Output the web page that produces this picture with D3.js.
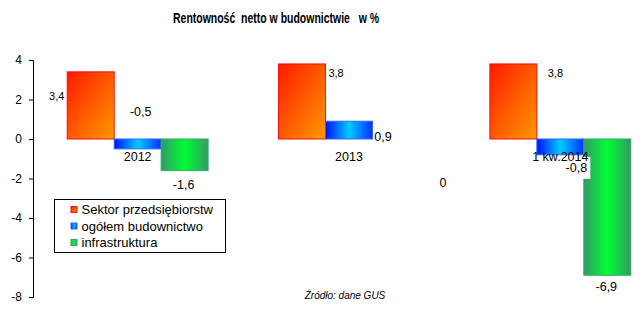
<!DOCTYPE html>
<html>
<head>
<meta charset="utf-8">
<script src="https://cdn.jsdelivr.net/npm/d3@7"></script>
<style>
  body { margin: 0; background: #fff; }
  svg { display: block; font-family: "Liberation Sans", Arial, sans-serif; }
</style>
</head>
<body>
<div id="chart"></div>
<script>
const categories = ["2012", "2013", "1 kw.2014"];
const seriesNames = ["Sektor przedsiębiorstw", "ogółem budownictwo", "infrastruktura"];
const sektor = [3.4, 3.8, 3.8];
const ogolem = [-0.5, 0.9, -0.8];
const infra = [-1.6, 0, -6.9];
const yTicks = [4, 2, 0, -2, -4, -6, -8];

// label nudges (px) from the end of each bar, Excel put them all over the place
const labelNudge = [
  [[-34, 24], [34, 9], [42, 9]],
  [[3, -37], [34, 15], [16, 13]],
  [[-1, 14], [47, 44], [-1, 11]]
];

const width = 642, height = 315;
const svg = d3.select("#chart").append("svg").attr("width", width).attr("height", height);

// ---------- gradients ----------
const defs = svg.append("defs");
const gOrange = defs.append("linearGradient").attr("id", "gOrange")
  .attr("x1", "0%").attr("y1", "0%").attr("x2", "100%").attr("y2", "100%");
gOrange.append("stop").attr("offset", "0%").attr("stop-color", "#ff1a00");
gOrange.append("stop").attr("offset", "100%").attr("stop-color", "#ff9900");

const gBlue = defs.append("linearGradient").attr("id", "gBlue");
gBlue.append("stop").attr("offset", "0%").attr("stop-color", "#0010ff");
gBlue.append("stop").attr("offset", "50%").attr("stop-color", "#00ccff");
gBlue.append("stop").attr("offset", "100%").attr("stop-color", "#0030ff");

const gGreen = defs.append("linearGradient").attr("id", "gGreen");
gGreen.append("stop").attr("offset", "0%").attr("stop-color", "#339966");
gGreen.append("stop").attr("offset", "50%").attr("stop-color", "#00ff33");
gGreen.append("stop").attr("offset", "100%").attr("stop-color", "#339966");

const fills = ["url(#gOrange)", "url(#gBlue)", "url(#gGreen)"];
const strokes = ["#ee1111", "#3366ff", "#33aa66"];

// ---------- scales ----------
const y = d3.scaleLinear().domain([-8, 4]).range([297, 60]);
const x = d3.scaleBand().domain(categories).range([32, 666]).paddingInner(1 / 3).paddingOuter(1 / 6);
const xs = d3.scaleBand().domain(seriesNames).range([0, x.bandwidth()]);

// ---------- title ----------
svg.append("text").attr("x", 173).attr("y", 23)
  .attr("textLength", 206).attr("lengthAdjust", "spacingAndGlyphs")
  .style("font-weight", "bold").style("font-size", "14.5px")
  .style("white-space", "pre")
  .text("Rentowność  netto w budownictwie   w %");

// ---------- y axis ----------
const yAxis = svg.append("g").attr("transform", "translate(33,0)")
  .call(d3.axisLeft(y).tickValues(yTicks).tickSize(4).tickPadding(7).tickFormat(d => String(d)));
yAxis.select(".domain").attr("stroke", "#000");
yAxis.selectAll("text").style("font-size", "12px").style("font-family", "'Liberation Sans', Arial, sans-serif").attr("fill", "#000");

// ---------- bars ----------
const allSeries = [sektor, ogolem, infra];
const barData = [];
allSeries.forEach((vals, s) => vals.forEach((v, i) => barData.push({ s, i, v })));

svg.selectAll(".bar").data(barData.filter(d => d.v !== 0)).enter().append("rect")
  .attr("x", d => x(categories[d.i]) + xs(seriesNames[d.s]))
  .attr("y", d => y(Math.max(0, d.v)))
  .attr("width", xs.bandwidth())
  .attr("height", d => Math.abs(y(d.v) - y(0)))
  .attr("fill", d => fills[d.s])
  .attr("stroke", d => strokes[d.s]).attr("stroke-width", 1);

// ---------- value labels ----------
const fmt = v => String(v).replace(".", ",");
const labels = svg.selectAll(".val").data(barData).enter().append("g")
  .attr("transform", d => {
    const cx = x(categories[d.i]) + xs(seriesNames[d.s]) + xs.bandwidth() / 2;
    const [dx, dy] = labelNudge[d.s][d.i];
    return `translate(${cx + dx},${y(d.v) + dy})`;
  });
labels.filter(d => d.s === 1 && d.i === 2).append("rect")
  .attr("x", -15).attr("y", -11).attr("width", 29).attr("height", 22).attr("fill", "#fff");
labels.append("text")
  .attr("text-anchor", "middle").attr("dy", "0.35em")
  .style("font-size", d => d.s === 0 ? "11px" : "12.5px")
  .text(d => fmt(d.v));

// ---------- category labels (on top, like the original) ----------
svg.selectAll(".cat").data(categories).enter().append("text")
  .attr("x", d => x(d) + x.bandwidth() / 2).attr("y", 161)
  .attr("text-anchor", "middle").style("font-size", "12.5px")
  .text(d => d);

// ---------- legend ----------
const legend = svg.append("g").attr("transform", "translate(54.5,199.5)");
legend.append("rect").attr("width", 171).attr("height", 53).attr("fill", "#fff").attr("stroke", "#000");
const li = legend.selectAll(".li").data(seriesNames).enter().append("g")
  .attr("transform", (d, i) => `translate(0,${10 + i * 16.5})`);
li.append("rect").attr("x", 16.5).attr("y", -3).attr("width", 6).attr("height", 6)
  .attr("fill", (d, i) => fills[i]).attr("stroke", (d, i) => strokes[i]);
li.append("text").attr("x", 27).attr("dy", "0.35em").style("font-size", "13px").text(d => d);

// ---------- source ----------
svg.append("text").attr("x", 345).attr("y", 299).attr("text-anchor", "middle")
  .style("font-size", "10px").style("font-style", "italic")
  .text("Źródło: dane GUS");
</script>
</body>
</html>
